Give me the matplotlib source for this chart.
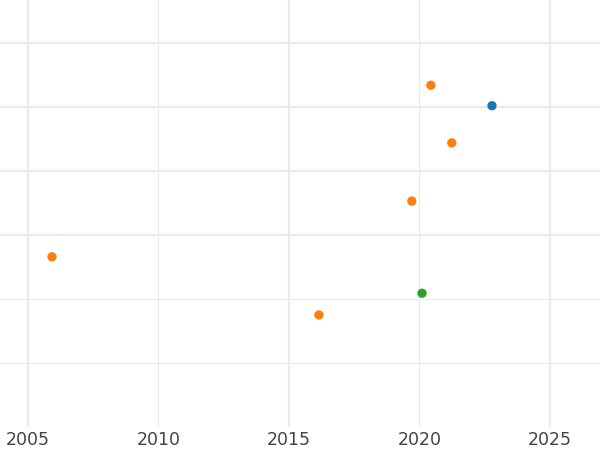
import matplotlib

matplotlib.use("Agg")
import matplotlib.pyplot as plt

# point data (year, value, group)
years = [2020.44, 2022.78, 2021.24, 2019.71, 2005.92, 2020.10, 2016.15]
values = [5.34, 5.02, 4.44, 3.53, 2.66, 2.09, 1.75]
groups = ["b", "a", "b", "b", "b", "c", "b"]

group_colors = {"a": "#1f77b4", "b": "#ff7f0e", "c": "#2ca02c"}

x_ticks = [2005, 2010, 2015, 2020, 2025]
x_tick_labels = ["2005", "2010", "2015", "2020", "2025"]
y_grid = [1, 2, 3, 4, 5, 6]

fig = plt.figure(figsize=(6, 4.5), dpi=100)
ax = fig.add_axes([0, 23 / 450, 1, 427 / 450])

ax.set_xlim(2003.93, 2026.92)
ax.set_ylim(0, 427 / 64)

for spine in ax.spines.values():
    spine.set_visible(False)

ax.set_xticks(x_ticks)
ax.set_xticklabels(x_tick_labels, fontsize=12.5, color="#444444")
ax.set_yticks(y_grid)
ax.tick_params(axis="x", length=0, pad=3)
ax.tick_params(axis="y", length=0, labelleft=False)

ax.grid(True, color="#ebebeb", zorder=0)
ax.set_axisbelow(True)
for line, tick in zip(ax.get_xgridlines(), x_ticks):
    line.set_linewidth(1.6 if tick in (2005, 2015, 2025) else 0.9)
for line, tick in zip(ax.get_ygridlines(), y_grid):
    line.set_linewidth(1.6 if tick >= 3 else 0.9)

colors = [group_colors[g] for g in groups]
ax.scatter(years, values, s=45, c=colors, linewidths=0, zorder=3)

fig.savefig("out.png", dpi=100)
plt.close(fig)
